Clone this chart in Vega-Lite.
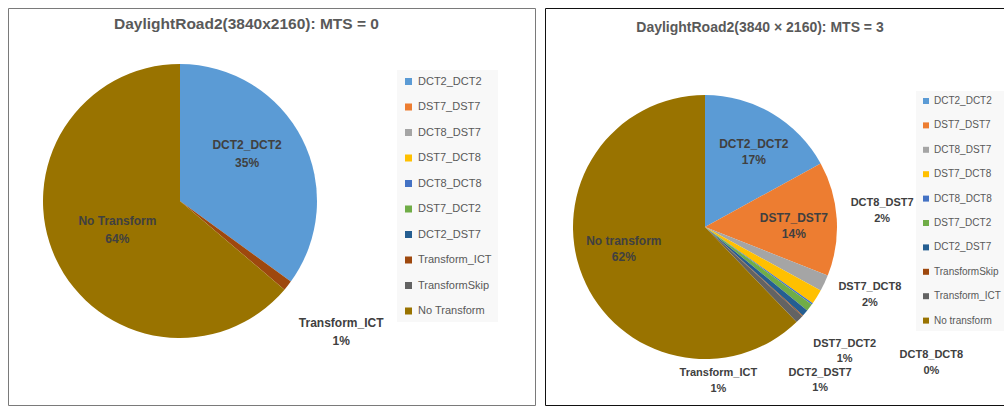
{
  "$schema": "https://vega.github.io/schema/vega-lite/v6.json",
  "padding": {"left": 7, "top": 7, "right": 0, "bottom": 2},
  "background": "#ffffff",
  "spacing": 8,
  "datasets": {
    "left": [
      {"cat": "DCT2_DCT2", "v": 0.35, "i": 1},
      {"cat": "DST7_DST7", "v": 0, "i": 2},
      {"cat": "DCT8_DST7", "v": 0, "i": 3},
      {"cat": "DST7_DCT8", "v": 0, "i": 4},
      {"cat": "DCT8_DCT8", "v": 0, "i": 5},
      {"cat": "DST7_DCT2", "v": 0, "i": 6},
      {"cat": "DCT2_DST7", "v": 0, "i": 7},
      {"cat": "Transform_ICT", "v": 0.012, "i": 8},
      {"cat": "TransformSkip", "v": 0, "i": 9},
      {"cat": "No Transform", "v": 0.638, "i": 10}
    ],
    "right": [
      {"cat": "DCT2_DCT2", "v": 0.17, "i": 1},
      {"cat": "DST7_DST7", "v": 0.14, "i": 2},
      {"cat": "DCT8_DST7", "v": 0.02, "i": 3},
      {"cat": "DST7_DCT8", "v": 0.018, "i": 4},
      {"cat": "DCT8_DCT8", "v": 0.002, "i": 5},
      {"cat": "DST7_DCT2", "v": 0.009, "i": 6},
      {"cat": "DCT2_DST7", "v": 0.008, "i": 7},
      {"cat": "TransformSkip", "v": 0.001, "i": 8},
      {"cat": "Transform_ICT", "v": 0.01, "i": 9},
      {"cat": "No transform", "v": 0.622, "i": 10}
    ]
  },
  "resolve": {"scale": {"color": "independent", "theta": "independent"}, "legend": {"color": "independent"}},
  "hconcat": [
    {
      "data": {"name": "left"},
      "width": 527,
      "height": 397,
      "view": {"stroke": "#7a7a7a", "strokeWidth": 1},
      "title": {"text": "DaylightRoad2(3840x2160): MTS = 0", "font": "Liberation Sans", "fontSize": 15.5, "fontWeight": "bold", "color": "#595959", "anchor": "middle", "dx": -25, "offset": -24.5},
      "transform": [{"calculate": "datum.cat + '\\n' + format(datum.v, '.0%')", "as": "label"}],
      "encoding": {
        "theta": {"field": "v", "type": "quantitative", "stack": true},
        "order": {"field": "i", "type": "quantitative"}
      },
      "layer": [
        {
          "mark": {"type": "arc", "outerRadius": 137, "x": 172, "y": 193},
          "encoding": {
            "color": {
              "field": "cat", "type": "nominal", "sort": null,
              "scale": {"range": ["#5B9BD5", "#ED7D31", "#A5A5A5", "#FFC000", "#4472C4", "#70AD47", "#255E91", "#9E480E", "#636363", "#997300"]},
              "legend": {"orient": "none", "legendX": 389, "legendY": 62, "title": null, "symbolType": "square", "symbolSize": 49, "symbolStrokeWidth": 0, "labelFont": "Liberation Sans", "labelFontSize": 11, "labelColor": "#595959", "labelOffset": 4, "rowPadding": 13.5, "fillColor": "#f8f8f8", "padding": 6}
            }
          }
        },
        {
          "mark": {"type": "text", "clip": true, "x": 172, "y": 193, "radius": 82, "dx": -6, "dy": -19, "font": "Liberation Sans", "fontSize": 12, "fontWeight": "bold", "color": "#404040", "lineBreak": "\n", "lineHeight": 18},
          "encoding": {"detail": {"field": "cat"}, "text": {"condition": {"test": "datum.cat === 'DCT2_DCT2'", "field": "label", "type": "nominal"}, "value": ""}}
        },
        {
          "mark": {"type": "text", "clip": true, "x": 172, "y": 193, "radius": 69, "dy": -9, "font": "Liberation Sans", "fontSize": 12, "fontWeight": "bold", "color": "#404040", "lineBreak": "\n", "lineHeight": 18},
          "encoding": {"detail": {"field": "cat"}, "text": {"condition": {"test": "datum.cat === 'No Transform'", "field": "label", "type": "nominal"}, "value": ""}}
        },
        {
          "mark": {"type": "text", "clip": true, "x": 172, "y": 193, "radius": 205, "dy": -5, "font": "Liberation Sans", "fontSize": 12, "fontWeight": "bold", "color": "#404040", "lineBreak": "\n", "lineHeight": 18},
          "encoding": {"detail": {"field": "cat"}, "text": {"condition": {"test": "datum.cat === 'Transform_ICT'", "field": "label", "type": "nominal"}, "value": ""}}
        }
      ]
    },
    {
      "data": {"name": "right"},
      "width": 462,
      "height": 397,
      "view": {"stroke": "#111111", "strokeWidth": 1},
      "title": {"text": "DaylightRoad2(3840 × 2160): MTS = 3", "font": "Liberation Sans", "fontSize": 14, "fontWeight": "bold", "color": "#595959", "anchor": "middle", "dx": -16, "offset": -27},
      "transform": [{"calculate": "datum.cat + '\\n' + format(datum.v, '.0%')", "as": "label"}],
      "encoding": {
        "theta": {"field": "v", "type": "quantitative", "stack": true},
        "order": {"field": "i", "type": "quantitative"}
      },
      "layer": [
        {
          "mark": {"type": "arc", "outerRadius": 132, "x": 160, "y": 219},
          "encoding": {
            "color": {
              "field": "cat", "type": "nominal", "sort": null,
              "scale": {"range": ["#5B9BD5", "#ED7D31", "#A5A5A5", "#FFC000", "#4472C4", "#70AD47", "#255E91", "#9E480E", "#636363", "#997300"]},
              "legend": {"orient": "none", "legendX": 371, "legendY": 83, "title": null, "symbolType": "square", "symbolSize": 36, "symbolStrokeWidth": 0, "labelFont": "Liberation Sans", "labelFontSize": 10, "labelColor": "#595959", "labelOffset": 3, "rowPadding": 14.4, "fillColor": "#f8f8f8", "padding": 5}
            }
          }
        },
        {
          "mark": {"type": "text", "clip": true, "x": 160, "y": 219, "radius": 90, "dx": 3, "dy": -6, "font": "Liberation Sans", "fontSize": 12, "fontWeight": "bold", "color": "#404040", "lineBreak": "\n", "lineHeight": 16},
          "encoding": {"detail": {"field": "cat"}, "text": {"condition": {"test": "datum.cat === 'DCT2_DCT2'", "field": "label", "type": "nominal"}, "value": ""}}
        },
        {
          "mark": {"type": "text", "clip": true, "x": 160, "y": 219, "radius": 91, "dx": -2, "dy": -3, "font": "Liberation Sans", "fontSize": 12, "fontWeight": "bold", "color": "#404040", "lineBreak": "\n", "lineHeight": 16},
          "encoding": {"detail": {"field": "cat"}, "text": {"condition": {"test": "datum.cat === 'DST7_DST7'", "field": "label", "type": "nominal"}, "value": ""}}
        },
        {
          "mark": {"type": "text", "clip": true, "x": 160, "y": 219, "radius": 80, "dx": -7, "dy": -16, "font": "Liberation Sans", "fontSize": 12, "fontWeight": "bold", "color": "#404040", "lineBreak": "\n", "lineHeight": 16},
          "encoding": {"detail": {"field": "cat"}, "text": {"condition": {"test": "datum.cat === 'No transform'", "field": "label", "type": "nominal"}, "value": ""}}
        },
        {
          "mark": {"type": "text", "clip": true, "x": 160, "y": 219, "radius": 156, "dx": 36, "dy": -90, "font": "Liberation Sans", "fontSize": 11, "fontWeight": "bold", "color": "#404040", "lineBreak": "\n", "lineHeight": 16},
          "encoding": {"detail": {"field": "cat"}, "text": {"condition": {"test": "datum.cat === 'DCT8_DST7'", "field": "label", "type": "nominal"}, "value": ""}}
        },
        {
          "mark": {"type": "text", "clip": true, "x": 160, "y": 219, "radius": 178, "dx": 14, "dy": -34, "font": "Liberation Sans", "fontSize": 11, "fontWeight": "bold", "color": "#404040", "lineBreak": "\n", "lineHeight": 16},
          "encoding": {"detail": {"field": "cat"}, "text": {"condition": {"test": "datum.cat === 'DST7_DCT8'", "field": "label", "type": "nominal"}, "value": ""}}
        },
        {
          "mark": {"type": "text", "clip": true, "x": 160, "y": 219, "radius": 265, "dx": 11, "dy": -26, "font": "Liberation Sans", "fontSize": 11, "fontWeight": "bold", "color": "#404040", "lineBreak": "\n", "lineHeight": 16},
          "encoding": {"detail": {"field": "cat"}, "text": {"condition": {"test": "datum.cat === 'DCT8_DCT8'", "field": "label", "type": "nominal"}, "value": ""}}
        },
        {
          "mark": {"type": "text", "clip": true, "x": 160, "y": 219, "radius": 189, "dx": -10, "dy": 2, "font": "Liberation Sans", "fontSize": 11, "fontWeight": "bold", "color": "#404040", "lineBreak": "\n", "lineHeight": 15},
          "encoding": {"detail": {"field": "cat"}, "text": {"condition": {"test": "datum.cat === 'DST7_DCT2'", "field": "label", "type": "nominal"}, "value": ""}}
        },
        {
          "mark": {"type": "text", "clip": true, "x": 160, "y": 219, "radius": 190, "dx": -29, "dy": 22, "font": "Liberation Sans", "fontSize": 11, "fontWeight": "bold", "color": "#404040", "lineBreak": "\n", "lineHeight": 15},
          "encoding": {"detail": {"field": "cat"}, "text": {"condition": {"test": "datum.cat === 'DCT2_DST7'", "field": "label", "type": "nominal"}, "value": ""}}
        },
        {
          "mark": {"type": "text", "clip": true, "x": 160, "y": 219, "radius": 150, "dx": -94, "dy": 41, "font": "Liberation Sans", "fontSize": 11, "fontWeight": "bold", "color": "#404040", "lineBreak": "\n", "lineHeight": 16},
          "encoding": {"detail": {"field": "cat"}, "text": {"condition": {"test": "datum.cat === 'Transform_ICT'", "field": "label", "type": "nominal"}, "value": ""}}
        }
      ]
    }
  ]
}
